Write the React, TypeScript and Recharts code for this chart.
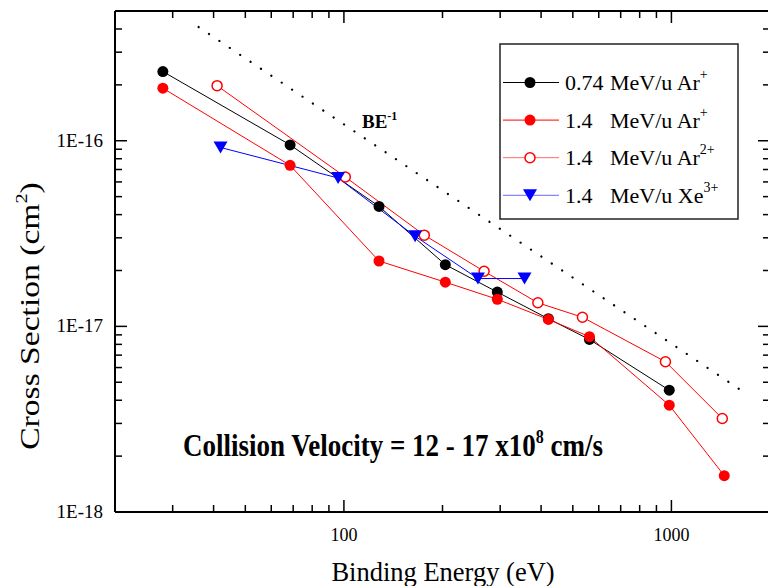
import React from "react";
import { ComposedChart, Line, XAxis, YAxis, ReferenceLine } from "recharts";

const FONT = '"Liberation Serif", "Times New Roman", serif';

// binding energies (eV) and cross sections (cm^2)
const ar074Energy = [28, 68.5, 128, 204, 294, 421, 562, 985];
const ar074Sigma = [2.36e-16, 9.5e-17, 4.43e-17, 2.15e-17, 1.53e-17, 1.1e-17, 8.5e-18, 4.53e-18];

const ar14Energy = [28, 68.5, 128, 204, 294, 421, 562, 985, 1450];
const ar14Sigma = [1.92e-16, 7.37e-17, 2.25e-17, 1.73e-17, 1.4e-17, 1.09e-17, 8.8e-18, 3.76e-18, 1.57e-18];

const ar2Energy = [41, 101, 176, 268, 391, 535, 959, 1430];
const ar2Sigma = [1.98e-16, 6.38e-17, 3.1e-17, 1.98e-17, 1.34e-17, 1.12e-17, 6.45e-18, 3.19e-18];

const xeEnergy = [42, 96, 165, 256.6, 356];
const xeSigma = [9.2e-17, 6.3e-17, 3.06e-17, 1.81e-17, 1.81e-17];

// BE^-1 guide line end points
const beEnergy = [36, 1640];
const beSigma = [4.1e-16, 4.5e-18];

const xMajorTicks = [100, 1000];
const xMinorTicks = [30, 40, 50, 60, 70, 80, 90, 200, 300, 400, 500, 600, 700, 800, 900];
const yMajorTicks = [1e-18, 1e-17, 1e-16];
const yMinorTicks = [
  2e-18, 3e-18, 4e-18, 5e-18, 6e-18, 7e-18, 8e-18, 9e-18,
  2e-17, 3e-17, 4e-17, 5e-17, 6e-17, 7e-17, 8e-17, 9e-17,
  2e-16, 3e-16, 4e-16,
];
const yTickLabels = ["1E-18", "1E-17", "1E-16"];

const xTicks = [...xMinorTicks, ...xMajorTicks].sort((a, b) => a - b);
const yTicks = [...yMinorTicks, ...yMajorTicks].sort((a, b) => a - b);

const toPoints = (xs: number[], ys: number[]) => xs.map((x, i) => ({ x, y: ys[i] }));

const MAJOR = 12;
const MINOR = 7;

const BottomTick = (p: any) => {
  const major = xMajorTicks.includes(p.payload.value);
  return (
    <g>
      <line x1={p.x} x2={p.x} y1={p.y} y2={p.y - (major ? MAJOR : MINOR)} stroke="#000" strokeWidth={1.5} />
      {major && (
        <text x={p.x} y={p.y + 29} textAnchor="middle" fontSize={18} fontFamily={FONT} fill="#000">
          {p.payload.value}
        </text>
      )}
    </g>
  );
};

const TopTick = (p: any) => {
  const major = xMajorTicks.includes(p.payload.value);
  return <line x1={p.x} x2={p.x} y1={p.y} y2={p.y + (major ? MAJOR : MINOR)} stroke="#000" strokeWidth={1.5} />;
};

const LeftTick = (p: any) => {
  const idx = yMajorTicks.indexOf(p.payload.value);
  return (
    <g>
      <line x1={p.x} x2={p.x + (idx >= 0 ? MAJOR : MINOR)} y1={p.y} y2={p.y} stroke="#000" strokeWidth={1.5} />
      {idx >= 0 && (
        <text x={p.x - 12} y={p.y + 6} textAnchor="end" fontSize={19} fontFamily={FONT} fill="#000">
          {yTickLabels[idx]}
        </text>
      )}
    </g>
  );
};

const RightTick = (p: any) => {
  const major = yMajorTicks.includes(p.payload.value);
  return <line x1={p.x} x2={p.x - (major ? MAJOR : MINOR)} y1={p.y} y2={p.y} stroke="#000" strokeWidth={1.5} />;
};

const filledDot = (color: string) => (p: any) =>
  <circle key={`f${p.index}`} cx={p.cx} cy={p.cy} r={5.5} fill={color} stroke="none" />;

const openDot = (color: string) => (p: any) =>
  <circle key={`o${p.index}`} cx={p.cx} cy={p.cy} r={5} fill="#fff" stroke={color} strokeWidth={1.5} />;

const triangle = (cx: number, cy: number) => `M${cx - 7},${cy - 6}L${cx + 7},${cy - 6}L${cx},${cy + 6}Z`;

const triDot = (color: string) => (p: any) =>
  <path key={`t${p.index}`} d={triangle(p.cx, p.cy)} fill={color} stroke="none" />;

const legendRows = [
  { num: "0.74", ion: "Ar", charge: "+", line: "#000", marker: "filled", color: "#000" },
  { num: "1.4", ion: "Ar", charge: "+", line: "#f00", marker: "filled", color: "#f00" },
  { num: "1.4", ion: "Ar", charge: "2+", line: "#ff6a6a", marker: "open", color: "#f00" },
  { num: "1.4", ion: "Xe", charge: "3+", line: "#6a6aff", marker: "tri", color: "#00f" },
];

export default function App() {
  return (
    <div style={{ position: "absolute", left: 0, top: 0, width: 768, height: 586, overflow: "hidden", background: "#fff" }}>
      <ComposedChart width={780} height={586} margin={{ top: 0, right: 0, bottom: 0, left: 0 }}>
        <XAxis
          dataKey="x"
          type="number"
          scale="log"
          domain={[20, 2000]}
          allowDataOverflow
          ticks={xTicks}
          interval={0}
          height={74}
          tickSize={0}
          tickMargin={0}
          tickLine={false}
          axisLine={{ stroke: "#000", strokeWidth: 2 }}
          tick={BottomTick}
        />
        <XAxis
          xAxisId="top"
          orientation="top"
          dataKey="x"
          type="number"
          scale="log"
          domain={[20, 2000]}
          allowDataOverflow
          ticks={xTicks}
          interval={0}
          height={11}
          tickSize={0}
          tickMargin={0}
          tickLine={false}
          axisLine={{ stroke: "#000", strokeWidth: 2 }}
          tick={TopTick}
        />
        <YAxis
          dataKey="y"
          type="number"
          scale="log"
          domain={[1e-18, 5e-16]}
          allowDataOverflow
          ticks={yTicks}
          interval={0}
          width={115}
          tickSize={0}
          tickMargin={0}
          tickLine={false}
          axisLine={{ stroke: "#000", strokeWidth: 2 }}
          tick={LeftTick}
        />
        <YAxis
          yAxisId="right"
          orientation="right"
          dataKey="y"
          type="number"
          scale="log"
          domain={[1e-18, 5e-16]}
          allowDataOverflow
          ticks={yTicks}
          interval={0}
          width={10}
          tickSize={0}
          tickMargin={0}
          tickLine={false}
          axisLine={{ stroke: "#000", strokeWidth: 2 }}
          tick={RightTick}
        />
        <ReferenceLine
          segment={[
            { x: beEnergy[0], y: beSigma[0] },
            { x: beEnergy[1], y: beSigma[1] },
          ]}
          stroke="#000"
          strokeWidth={2.2}
          strokeDasharray="0.1 12.4"
          strokeLinecap="round"
          ifOverflow="visible"
        />
        <Line
          data={toPoints(ar074Energy, ar074Sigma)}
          dataKey="y"
          stroke="#000"
          strokeWidth={1}
          dot={filledDot("#000")}
          activeDot={false}
          isAnimationActive={false}
        />
        <Line
          data={toPoints(ar14Energy, ar14Sigma)}
          dataKey="y"
          stroke="#f00"
          strokeWidth={1}
          dot={filledDot("#f00")}
          activeDot={false}
          isAnimationActive={false}
        />
        <Line
          data={toPoints(ar2Energy, ar2Sigma)}
          dataKey="y"
          stroke="#f00"
          strokeWidth={1}
          dot={openDot("#f00")}
          activeDot={false}
          isAnimationActive={false}
        />
        <Line
          data={toPoints(xeEnergy, xeSigma)}
          dataKey="y"
          stroke="#00f"
          strokeWidth={1}
          dot={triDot("#00f")}
          activeDot={false}
          isAnimationActive={false}
        />
      </ComposedChart>

      <svg width={768} height={586} style={{ position: "absolute", left: 0, top: 0, pointerEvents: "none" }} fontFamily={FONT}>
        {/* axis titles */}
        <text transform="translate(39,316) rotate(-90) scale(1.2,1)" textAnchor="middle" fontSize={28} fill="#000">
          Cross Section (cm<tspan dy={-12} fontSize={17}>2</tspan>
          <tspan dy={12}>)</tspan>
        </text>
        <text x={443} y={581} textAnchor="middle" fontSize={26.5} fill="#000">
          Binding Energy (eV)
        </text>

        <text x={362} y={128} fontSize={19} fontWeight="bold" fill="#000">
          BE<tspan dy={-8} fontSize={12}>-1</tspan>
        </text>

        <text transform="translate(183,456) scale(1,1.15)" fontSize={27} fontWeight="bold" fill="#000">
          Collision Velocity = 12 - 17 x10<tspan dy={-11} fontSize={16}>8</tspan>
          <tspan dy={11}> cm/s</tspan>
        </text>

        {/* legend */}
        <rect x={500} y={44} width={238} height={175} fill="#fff" stroke="#222" strokeWidth={1.5} />
        {legendRows.map((r, i) => {
          const cy = 82.5 + i * 37.6;
          return (
            <g key={i}>
              <line x1={503} x2={559} y1={cy} y2={cy} stroke={r.line} strokeWidth={1} />
              {r.marker === "filled" && <circle cx={530} cy={cy} r={5.5} fill={r.color} />}
              {r.marker === "open" && <circle cx={530} cy={cy} r={5} fill="#fff" stroke={r.color} strokeWidth={1.5} />}
              {r.marker === "tri" && <path d={triangle(530, cy)} fill={r.color} />}
              <text x={565} y={cy + 7.5} fontSize={22} fill="#000">{r.num}</text>
              <text x={610} y={cy + 7.5} fontSize={22} fill="#000">
                MeV/u {r.ion}
                <tspan dy={-11} fontSize={14}>{r.charge}</tspan>
              </text>
            </g>
          );
        })}
      </svg>
    </div>
  );
}
